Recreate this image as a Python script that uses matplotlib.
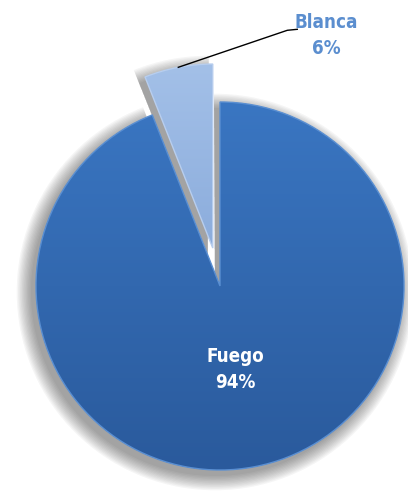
import numpy as np
import matplotlib
matplotlib.use("Agg")
import matplotlib.pyplot as plt
import matplotlib.colors as mcolors
from matplotlib.patches import Wedge

# Data
categories = ["Fuego", "Blanca"]
shares = [94, 6]
explode = [0.0, 0.21]   # fraction of radius

# Colours: (top, bottom) of the vertical gradient for each slice
slice_grad = [("#3A76C2", "#2A5A9C"), ("#A3C0E8", "#7499D0")]
rim_colors = ["#5A8FD2", "#B8CEEE"]
label_colors = ["white", "#5B8ECF"]

W, H = 408, 492
fig = plt.figure(figsize=(W / 100, H / 100), dpi=100)
ax = fig.add_axes([0, 0, 1, 1])

cx, cy, R = 220, 206, 184

wedges, _ = ax.pie(
    shares, explode=[e * R for e in explode], startangle=90, counterclock=False,
    radius=R, center=(cx, cy), frame=True,
    colors=[g[1] for g in slice_grad],
    wedgeprops=dict(linewidth=0, edgecolor="none"),
)
ax.set_xlim(0, W)
ax.set_ylim(0, H)
ax.set_aspect("equal")
ax.axis("off")

# Soft drop shadow behind every slice (offset down-left)
for w in wedges:
    wc = w.center
    for k in range(12):
        sh = Wedge((wc[0] - 5, wc[1] - 6), w.r + k * 1.3, w.theta1 - 0.3, w.theta2 + 0.3,
                   facecolor="#2a2a2a", edgecolor="none", alpha=0.045, zorder=0)
        ax.add_patch(sh)

# Vertical gradient fill clipped to each slice
for w, (top, bot), rc in zip(wedges, slice_grad, rim_colors):
    wc = w.center
    t = np.linspace(0, 1, 256)[:, None]
    c_top = np.array(mcolors.to_rgb(top))
    c_bot = np.array(mcolors.to_rgb(bot))
    grad = c_top[None, None, :] * (1 - t[:, :, None]) + c_bot[None, None, :] * t[:, :, None]
    grad = np.repeat(grad, 4, axis=1)
    im = ax.imshow(grad, extent=[wc[0] - w.r, wc[0] + w.r, wc[1] - w.r, wc[1] + w.r],
                   origin="upper", aspect="auto", zorder=w.get_zorder() + 0.1)
    im.set_clip_path(w)
    rim = Wedge(wc, w.r, w.theta1, w.theta2, facecolor="none",
                edgecolor=rc, linewidth=1.0, zorder=w.get_zorder() + 0.2)
    ax.add_patch(rim)

ax.set_xlim(0, W)
ax.set_ylim(0, H)

font = dict(family="DejaVu Sans", fontweight="bold", fontstretch="condensed")

# Inside label for the large slice
w = wedges[0]
mid = np.deg2rad((w.theta1 + w.theta2) / 2)
ax.text(w.center[0] + 0.44 * w.r * np.cos(mid), w.center[1] + 0.46 * w.r * np.sin(mid),
        f"{categories[0]}\n{shares[0]}%", ha="center", va="center",
        color=label_colors[0], fontsize=13.5, linespacing=1.45, zorder=10, **font)

# Outside label with leader line for the exploded slice
w = wedges[1]
mid = np.deg2rad((w.theta1 + w.theta2) / 2)
ax_pt = (w.center[0] + w.r * np.cos(mid), w.center[1] + w.r * np.sin(mid))
tx, ty = ax_pt[0] + 148, ax_pt[1] + 32
elbow = (tx - 39, ty + 5)
end = (tx - 29, ty + 6)
ax.plot([ax_pt[0], elbow[0], end[0]], [ax_pt[1], elbow[1], end[1]],
        color="black", linewidth=1.0, zorder=10)
ax.text(tx, ty, f"{categories[1]}\n{shares[1]}%", ha="center", va="center",
        color=label_colors[1], fontsize=13.5, linespacing=1.45, zorder=10, **font)

fig.savefig("out.png", dpi=100)
